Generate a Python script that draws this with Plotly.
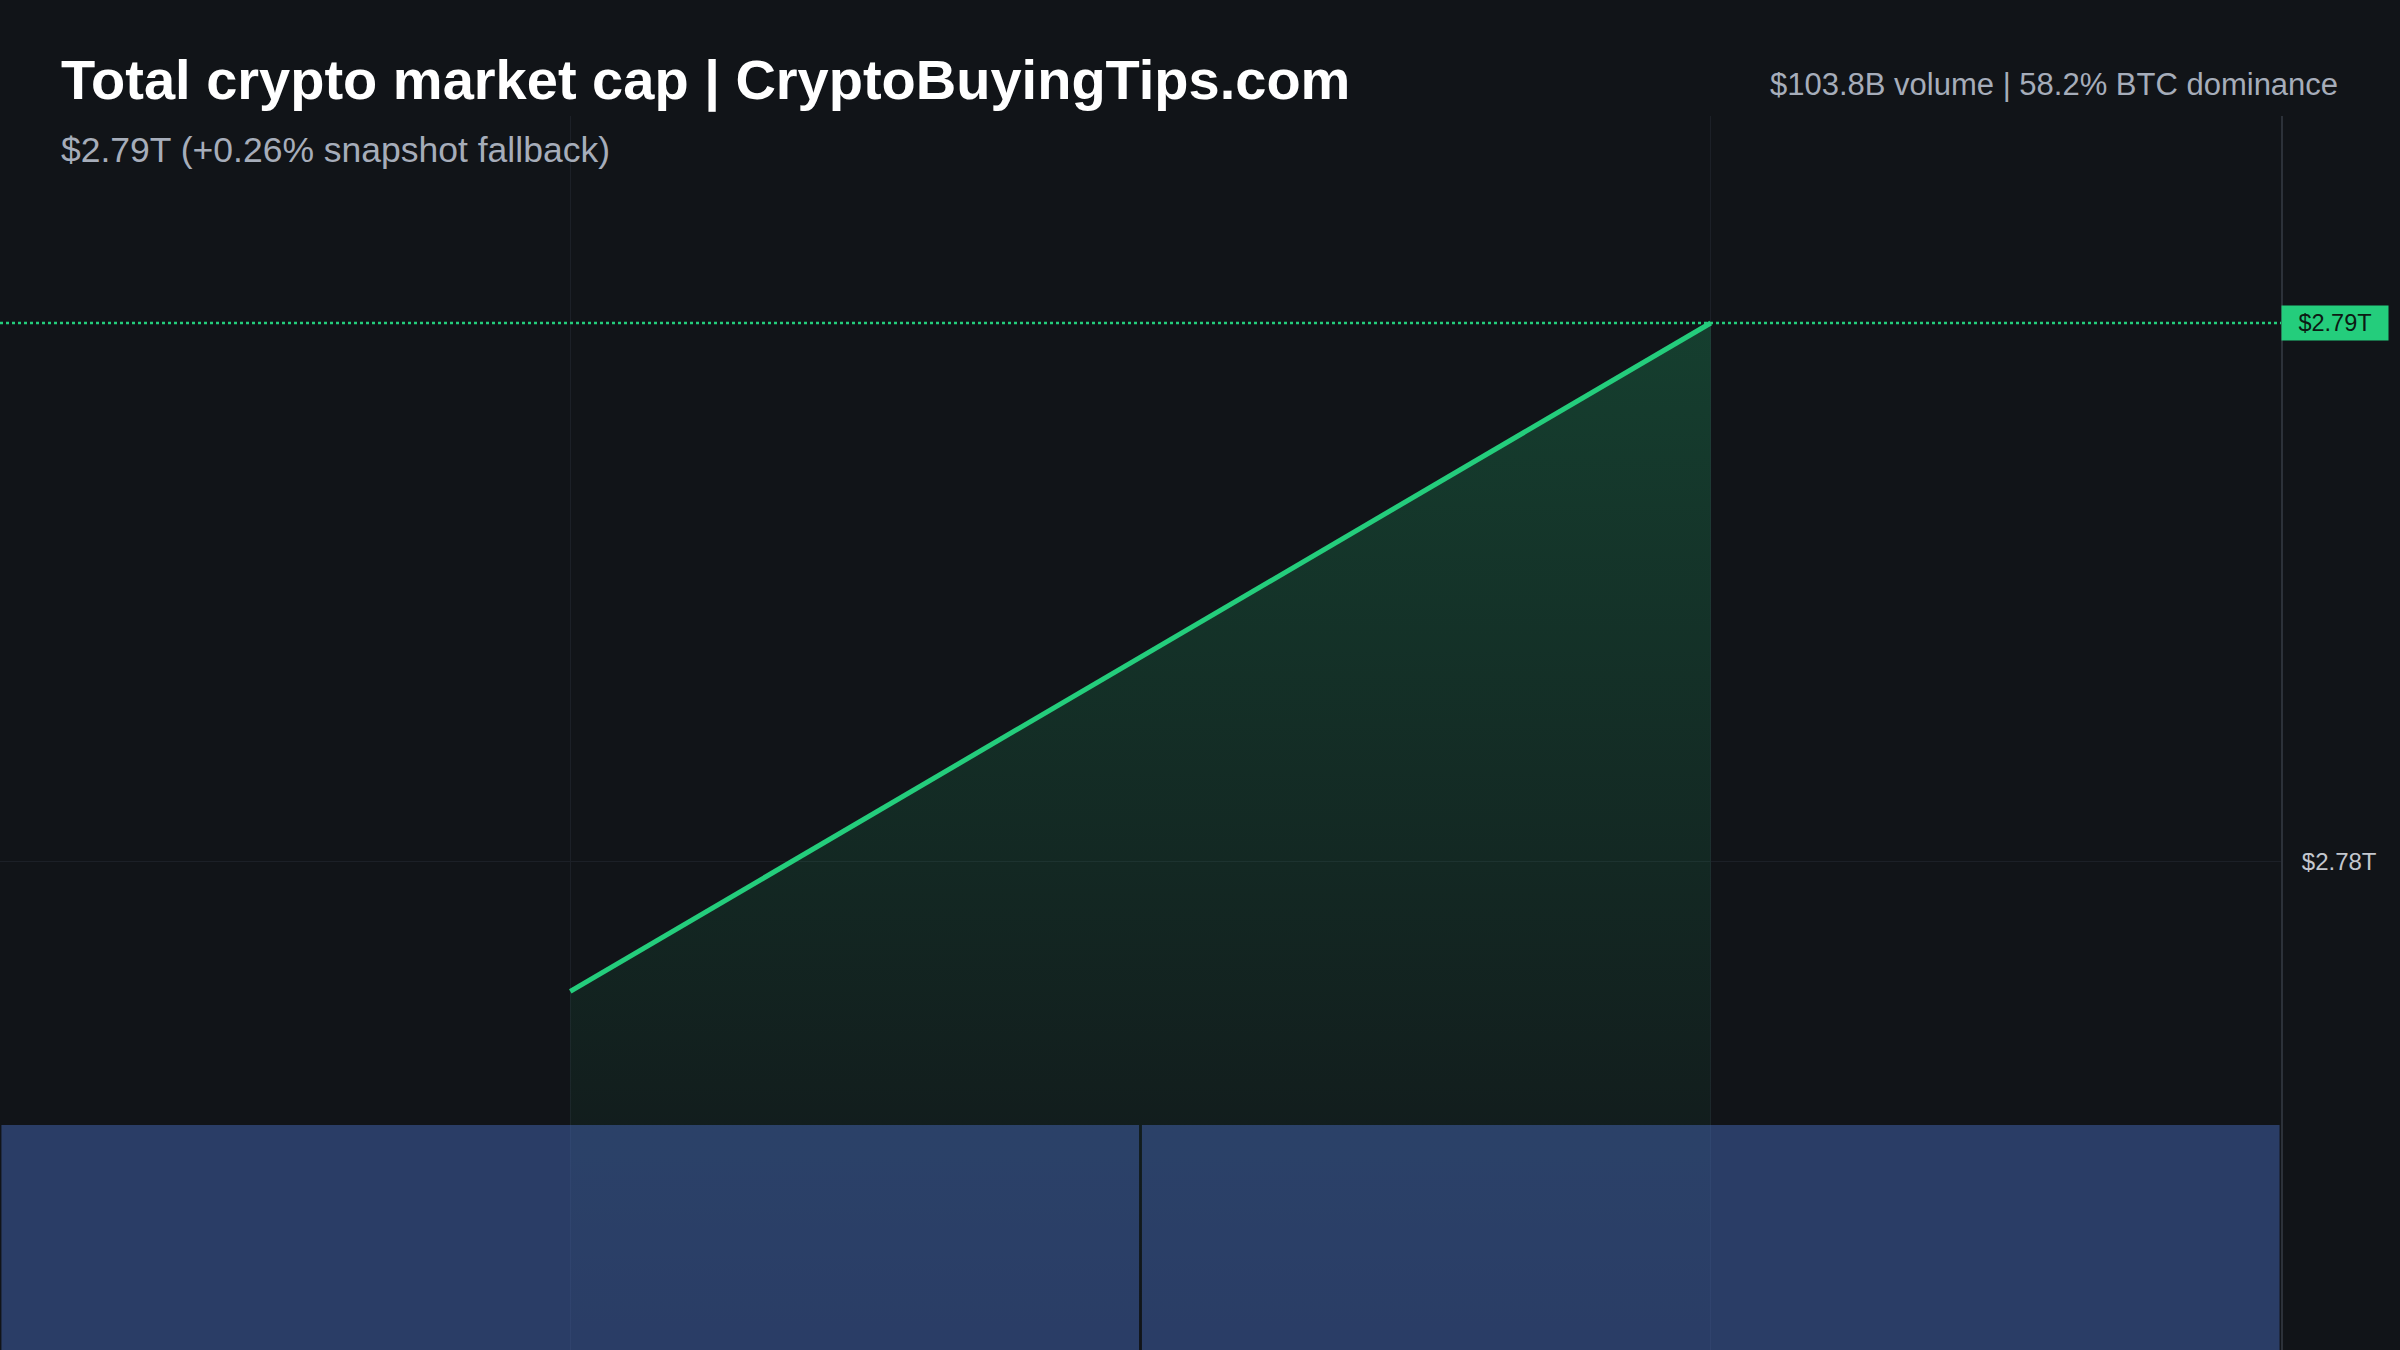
import plotly.graph_objects as go

# snapshot data (two points)
points = [0, 1]
market_cap = [2.7776e12, 2.79e12]
volume = [103.8e9, 103.8e9]
# the 2.79T level is labelled by the last-price tag instead of a tick
tick_vals = [2.78e12]
tick_text = ["$2.78T"]

title = "Total crypto market cap | CryptoBuyingTips.com"
subtitle = "$2.79T (+0.26% snapshot fallback)"
stats = "$103.8B volume | 58.2% BTC dominance"
last_label = "$2.79T"

bg = "#111418"
green = "#24cd7c"
grid = "#1c2027"

y_lo, y_hi = 2.770946e12, 2.79384e12

fig = go.Figure()

fig.add_trace(go.Scatter(
    x=points, y=market_cap,
    mode="lines",
    line=dict(color=green, width=5),
    fill="tozeroy",
    fillgradient=dict(
        type="vertical",
        start=y_lo, stop=market_cap[-1],
        colorscale=[[0, "rgba(36,205,124,0.0)"], [1, "rgba(36,205,124,0.23)"]],
    ),
    hoverinfo="skip",
))

fig.add_trace(go.Bar(
    x=points, y=volume,
    yaxis="y2",
    marker=dict(color="rgba(67,102,180,0.5)", line=dict(width=0)),
    hoverinfo="skip",
))

# last price dotted line
fig.add_shape(type="line", xref="paper", x0=0, x1=1, yref="y",
              y0=market_cap[-1], y1=market_cap[-1],
              line=dict(color=green, width=2.5, dash="dot"))

fig.add_annotation(text=title, xref="paper", yref="paper", x=0.0258, y=1.0292,
                   xanchor="left", yanchor="middle", showarrow=False,
                   font=dict(family="Liberation Sans", size=56, color="#ffffff", weight="bold"))
fig.add_annotation(text=subtitle, xref="paper", yref="paper", x=0.0258, y=0.9724,
                   xanchor="left", yanchor="middle", showarrow=False,
                   font=dict(family="Liberation Sans", size=35.5, color="#a6adba"))
fig.add_annotation(text=stats, xref="paper", yref="paper", x=1.0258, y=1.0259,
                   xanchor="right", yanchor="middle", showarrow=False,
                   font=dict(family="Liberation Sans", size=31, color="#a6adba"))
fig.add_annotation(text=last_label, xref="paper", yref="y", x=1.0, y=market_cap[-1],
                   xanchor="left", yanchor="middle", showarrow=False,
                   bgcolor=green, borderpad=4, width=98,
                   font=dict(family="Liberation Sans", size=23.5, color="#0c1a13"))

fig.update_layout(
    width=2400, height=1350,
    paper_bgcolor=bg, plot_bgcolor=bg,
    margin=dict(l=0, r=119, t=116, b=0),
    showlegend=False,
    bargap=0.0025,
    xaxis=dict(range=[-0.5, 1.5], showticklabels=False, showgrid=True,
               gridcolor=grid, gridwidth=1, zeroline=False, tickvals=points),
    yaxis=dict(range=[y_lo, y_hi], side="right", tickvals=tick_vals, ticktext=tick_text,
               showgrid=True, gridcolor=grid, gridwidth=1, zeroline=False,
               showline=True, linecolor="#2c3139", linewidth=2,
               ticks="", ticklabelstandoff=14,
               tickfont=dict(family="Liberation Sans", size=24, color="#c3c7ce")),
    yaxis2=dict(overlaying="y", range=[0, volume[0] / 0.1823], visible=False,
                showgrid=False),
)

fig.write_html("out.html", config={"displayModeBar": False},
               post_script="document.body.style.margin='0';document.body.style.background='#111418';")
